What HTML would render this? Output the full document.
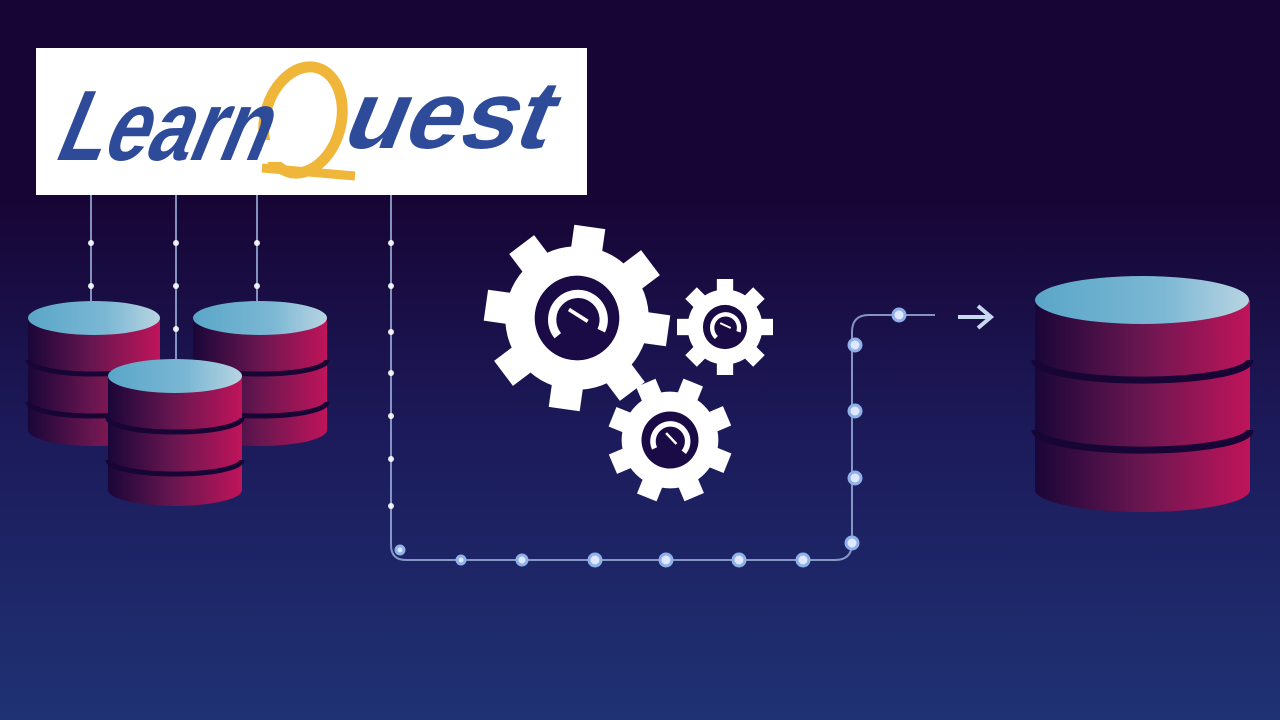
<!DOCTYPE html>
<html><head><style>
body{margin:0;width:1280px;height:720px;overflow:hidden;background:linear-gradient(#170535 0%,#170535 28%,#1c1a5a 60%,#1f3274 100%);}
svg{position:absolute;left:0;top:0}
</style></head><body>
<svg width="1280" height="720" viewBox="0 0 1280 720">
<defs>
<linearGradient id="side" x1="0" x2="1"><stop offset="0" stop-color="#1a0638"/><stop offset="0.5" stop-color="#6a1650"/><stop offset="1" stop-color="#c0145a"/></linearGradient>
<linearGradient id="top" x1="0" x2="1"><stop offset="0" stop-color="#5aa6c8"/><stop offset="0.6" stop-color="#7cb8d4"/><stop offset="1" stop-color="#b8d4e2"/></linearGradient>
<g id="gear">
<g fill="#fff">
<rect x="-17" y="-100" width="34" height="200"/>
<rect x="-17" y="-100" width="34" height="200" transform="rotate(45)"/>
<rect x="-17" y="-100" width="34" height="200" transform="rotate(90)"/>
<rect x="-17" y="-100" width="34" height="200" transform="rotate(135)"/>
<circle r="78"/></g>
<circle r="46" fill="#1a0a45"/>
<path d="M-18 22 A28 28 0 1 1 28 10" stroke="#fff" stroke-width="9" fill="none"/>
<line x1="-10" y1="-8" x2="12" y2="2" stroke="#fff" stroke-width="4"/>
</g>
</defs>
<g stroke="#9fb4e0" stroke-width="2" fill="none" opacity="0.8">
<line x1="91" y1="195" x2="91" y2="318"/><line x1="176" y1="195" x2="176" y2="376"/><line x1="257" y1="195" x2="257" y2="318"/>
<path d="M391 195 V545 Q391 560 406 560 H835 Q852 560 852 543 V332 Q852 315 869 315 H935"/>
</g>
<g fill="#fff" opacity="0.9">
<circle cx="91" cy="243" r="3"/><circle cx="91" cy="286" r="3"/><circle cx="176" cy="243" r="3"/><circle cx="176" cy="286" r="3"/><circle cx="176" cy="329" r="3"/>
<circle cx="257" cy="243" r="3"/><circle cx="257" cy="286" r="3"/>
<circle cx="391" cy="243" r="3"/><circle cx="391" cy="286" r="3"/><circle cx="391" cy="332" r="3"/><circle cx="391" cy="373" r="3"/><circle cx="391" cy="416" r="3"/><circle cx="391" cy="459" r="3"/><circle cx="391" cy="506" r="3"/>
</g>
<g fill="#dfe8ff" stroke="#8fb0e8" stroke-width="3">
<circle cx="400" cy="550" r="4"/><circle cx="461" cy="560" r="4"/><circle cx="522" cy="560" r="5"/><circle cx="595" cy="560" r="6"/><circle cx="666" cy="560" r="6"/><circle cx="739" cy="560" r="6"/><circle cx="803" cy="560" r="6"/>
<circle cx="852" cy="543" r="6"/><circle cx="855" cy="478" r="6"/><circle cx="855" cy="411" r="6"/><circle cx="855" cy="345" r="6"/><circle cx="899" cy="315" r="6"/>
</g>
<path d="M958 317 H990 M978 306 L991 317 L978 328" stroke="#c8d8f0" stroke-width="4" fill="none"/>
<g>
<path d="M28 318 V430 A66 16 0 0 0 160 430 V318 Z" fill="url(#side)"/>
<path d="M28 360 A66 14 0 0 0 160 360 M28 402 A66 14 0 0 0 160 402" stroke="#170535" stroke-width="5" fill="none"/>
<ellipse cx="94" cy="318" rx="66" ry="17" fill="url(#top)"/>
</g>
<g>
<path d="M193 318 V430 A67 16 0 0 0 327 430 V318 Z" fill="url(#side)"/>
<path d="M193 360 A67 14 0 0 0 327 360 M193 402 A67 14 0 0 0 327 402" stroke="#170535" stroke-width="5" fill="none"/>
<ellipse cx="260" cy="318" rx="67" ry="17" fill="url(#top)"/>
</g>
<g>
<path d="M108 376 V490 A67 16 0 0 0 242 490 V376 Z" fill="url(#side)"/>
<path d="M108 418 A67 14 0 0 0 242 418 M108 460 A67 14 0 0 0 242 460" stroke="#170535" stroke-width="5" fill="none"/>
<ellipse cx="175" cy="376" rx="67" ry="17" fill="url(#top)"/>
</g>
<g>
<path d="M1035 300 V490 A107 22 0 0 0 1250 490 V300 Z" fill="url(#side)"/>
<path d="M1035 360 A107 20 0 0 0 1250 360 M1035 430 A107 20 0 0 0 1250 430" stroke="#170535" stroke-width="7" fill="none"/>
<ellipse cx="1142" cy="300" rx="107" ry="24" fill="url(#top)"/>
</g>
<use href="#gear" transform="translate(577,318) scale(0.92) rotate(8)"/>
<use href="#gear" transform="translate(725,327) scale(0.48) rotate(0)"/>
<use href="#gear" transform="translate(670,440) scale(0.62) rotate(22)"/>
<rect x="36" y="48" width="551" height="147" fill="#fff"/>
<ellipse cx="303" cy="120" rx="38" ry="54" transform="rotate(15 303 120)" stroke="#f0b63a" stroke-width="11" fill="none"/>
<path d="M262 168 L355 176" stroke="#f0b63a" stroke-width="9"/>
<rect x="262" y="140" width="30" height="22" fill="#fff"/>
<g font-family="Liberation Sans,sans-serif" font-weight="bold" fill="#2e4b9a">
<text transform="translate(52,160) skewX(-22)" font-size="100" textLength="210" lengthAdjust="spacingAndGlyphs" x="0" y="0">Learn</text>
<text transform="translate(338,148) skewX(-22)" font-size="96" textLength="205" lengthAdjust="spacingAndGlyphs" x="0" y="0">uest</text>
</g>
</svg>
</body></html>
